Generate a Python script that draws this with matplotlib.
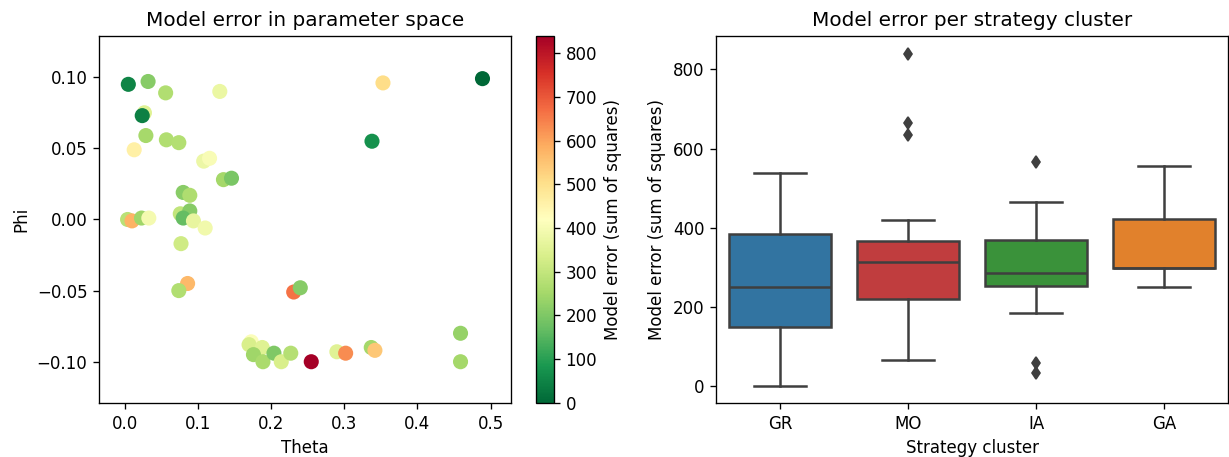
import matplotlib
matplotlib.use('Agg')
import matplotlib.pyplot as plt

# parameter estimates and model error for each fitted participant
theta = [0.005, 0.032, 0.056, 0.130, 0.027, 0.024, 0.029, 0.057, 0.074, 0.013,
         0.108, 0.116, 0.135, 0.146, 0.080, 0.089, 0.076, 0.089, 0.080, 0.094,
         0.110, 0.004, 0.010, 0.023, 0.033, 0.077, 0.086, 0.074, 0.231, 0.240,
         0.173, 0.170, 0.188, 0.176, 0.189, 0.204, 0.214, 0.227, 0.255, 0.290,
         0.302, 0.337, 0.342, 0.459, 0.459, 0.353, 0.489, 0.338]
phi = [0.095, 0.097, 0.089, 0.090, 0.075, 0.073, 0.059, 0.056, 0.054, 0.049,
       0.041, 0.043, 0.028, 0.029, 0.019, 0.017, 0.004, 0.006, 0.001, -0.001,
       -0.006, 0.000, -0.001, 0.001, 0.001, -0.017, -0.045, -0.050, -0.051, -0.048,
       -0.086, -0.088, -0.090, -0.095, -0.100, -0.094, -0.100, -0.094, -0.100, -0.093,
       -0.094, -0.090, -0.092, -0.080, -0.100, 0.096, 0.099, 0.055]
error = [50, 210, 270, 375, 350, 45, 255, 270, 275, 460,
         380, 405, 250, 195, 215, 268, 295, 210, 168, 370,
         390, 285, 580, 245, 395, 320, 570, 270, 665, 210,
         410, 335, 350, 245, 262, 200, 335, 277, 839, 352,
         630, 250, 545, 230, 252, 505, 0, 75]

# model error grouped by strategy cluster
clusters = ['GR', 'MO', 'IA', 'GA']
err_gr = [0, 120, 150, 210, 250, 300, 384, 450, 539]
err_mo = [66, 120, 170, 205, 220, 250, 280, 300, 313, 330, 345, 360, 367, 419, 634, 665, 839]
err_ia = [34, 58, 186, 254, 265, 280, 287, 320, 350, 369, 420, 464, 566]
err_ga = [251, 298, 298, 421, 555]
box_colors = ['#3274a1', '#c03d3e', '#3a923a', '#e1812c']

dpi = 120
fig = plt.figure(figsize=(1229 / dpi, 457 / dpi), dpi=dpi)
ax1 = fig.add_axes([0.0806, 0.1182, 0.3352, 0.8031])
cax = fig.add_axes([0.4361, 0.1182, 0.0146, 0.8031])
ax2 = fig.add_axes([0.5826, 0.1182, 0.4166, 0.8031])

sc = ax1.scatter(theta, phi, c=error, cmap='RdYlGn_r', s=82, linewidths=0)
ax1.set_xlim(-0.035, 0.528)
ax1.set_ylim(-0.129, 0.129)
ax1.set_yticks([-0.10, -0.05, 0.00, 0.05, 0.10])
ax1.set(xlabel='Theta', ylabel='Phi', title='Model error in parameter space')
cb = fig.colorbar(sc, cax=cax)
cb.set_label('Model error (sum of squares)')
cb.set_ticks(range(0, 900, 100))

gray = '#3f3f3f'
lw = 1.5
bp = ax2.boxplot([err_gr, err_mo, err_ia, err_ga], positions=range(4), widths=0.8,
                 patch_artist=True,
                 boxprops=dict(edgecolor=gray, linewidth=lw),
                 medianprops=dict(color=gray, linewidth=lw),
                 whiskerprops=dict(color=gray, linewidth=lw),
                 capprops=dict(color=gray, linewidth=lw),
                 flierprops=dict(marker='d', markerfacecolor=gray, markeredgecolor=gray,
                                 markersize=5.5))
for patch, col in zip(bp['boxes'], box_colors):
    patch.set_facecolor(col)
for cap in bp['caps']:
    x0, x1 = cap.get_xdata()
    mid = (x0 + x1) / 2
    cap.set_xdata([mid - 0.2, mid + 0.2])
ax2.set_xticks(range(4))
ax2.set_xticklabels(clusters)
ax2.set_xlim(-0.5, 3.5)
ax2.set_ylim(-42, 884)
ax2.set(xlabel='Strategy cluster', ylabel='Model error (sum of squares)',
        title='Model error per strategy cluster')

fig.savefig('out.png', dpi=dpi)
